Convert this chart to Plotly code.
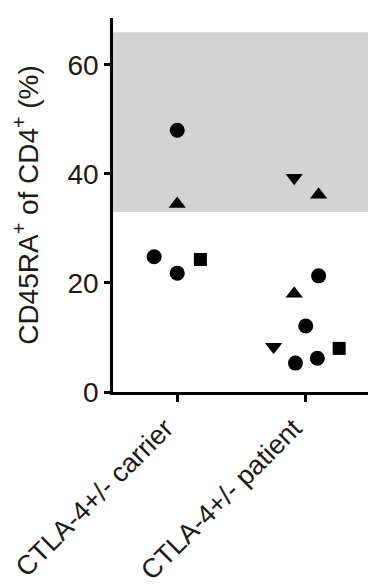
import plotly.graph_objects as go

categories = ["CTLA-4+/- carrier", "CTLA-4+/- patient"]

carrier_values = [48.0, 34.5, 24.8, 21.8, 24.3]
carrier_symbols = ["circle", "triangle-up", "circle", "circle", "square"]
carrier_offsets = [0.0, 0.0, -0.18, 0.0, 0.18]

patient_values = [39.3, 36.2, 21.3, 18.0, 12.1, 8.3, 5.3, 6.2, 8.0]
patient_symbols = ["triangle-down", "triangle-up", "circle", "triangle-up", "circle",
                   "triangle-down", "circle", "circle", "square"]
patient_offsets = [-0.09, 0.1, 0.1, -0.09, 0.0, -0.25, -0.08, 0.09, 0.26]

normal_range = [33, 66]
y_ticks = [0, 20, 40, 60]

fig = go.Figure()

for i, (vals, syms, offs) in enumerate([
    (carrier_values, carrier_symbols, carrier_offsets),
    (patient_values, patient_symbols, patient_offsets),
]):
    sizes = [13 if s == "square" else 15 for s in syms]
    fig.add_trace(go.Scatter(
        x=[i + o for o in offs], y=vals, mode="markers",
        marker=dict(symbol=syms, size=sizes, color="#000000", opacity=1,
                    line=dict(width=0)),
        showlegend=False, hoverinfo="y",
    ))

fig.add_shape(type="rect", xref="x", yref="y", x0=-0.5, x1=1.5,
              y0=normal_range[0], y1=normal_range[1],
              fillcolor="#d3d3d3", line=dict(width=0), layer="below")

font = dict(family="Liberation Sans, Arial, sans-serif", size=28, color="#1a1a1a")
xfont = dict(family="Liberation Sans, Arial, sans-serif", size=27, color="#1a1a1a")

fig.update_layout(
    width=368, height=578,
    margin=dict(l=105, r=6, t=10, b=194),
    paper_bgcolor="white", plot_bgcolor="white",
    font=font,
    xaxis=dict(
        range=[-0.5, 1.5], tickvals=[0, 1], ticktext=categories,
        tickangle=-45, showline=True, linecolor="black", linewidth=2.5,
        ticks="outside", ticklen=7, tickwidth=2.5, tickcolor="black",
        showgrid=False, zeroline=False, tickfont=xfont, automargin=False,
        ticklabelshift=-12,
    ),
    yaxis=dict(
        range=[0, 68.6], tickvals=y_ticks,
        showline=True, linecolor="black", linewidth=2.5,
        ticks="outside", ticklen=6, tickwidth=2.5, tickcolor="black",
        showgrid=False, zeroline=False, tickfont=font, automargin=False,
        title=dict(text="CD45RA<sup>+</sup> of CD4<sup>+</sup> (%)", font=font, standoff=22),
    ),
)

fig.write_html("out.html")
